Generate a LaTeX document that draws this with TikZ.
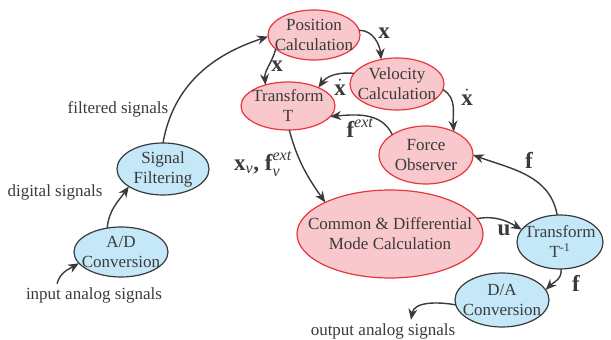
\documentclass[tikz,border=0pt]{standalone}
\usepackage{fontspec}
\setmainfont{Liberation Serif}
\usepackage{amsmath}
\usepackage{tikz}
\usetikzlibrary{
  arrows.meta,
  shapes.geometric
}

\definecolor{rosa}{HTML}{F8C8CC}
\definecolor{vermelho}{HTML}{E8363C}
\definecolor{azul}{HTML}{C5E8F8}
\definecolor{cinza}{HTML}{3A3A3A}

\begin{document}
\begin{tikzpicture}[
        x=1pt, y=1pt,
        font=\fontsize{17}{20}\selectfont,
        every node/.style={text=cinza},
        bloco/.style={ellipse, align=center, inner sep=-20pt, outer sep=0pt, line width=1.2pt},
        rosabloco/.style={bloco, draw=vermelho, fill=rosa},
        azulbloco/.style={bloco, draw=cinza, fill=azul},
        seta/.style={-{Stealth[length=11pt,width=9pt]}, line width=1.4pt, draw=cinza},
        var/.style={font=\fontsize{23}{25}\selectfont}
    ]
        \useasboundingbox (0,0) rectangle (611,340);

        % Blocos de processamento
        \node[rosabloco, minimum width=92pt, minimum height=50pt] (pos) at (314,305) {Position\\Calculation};
        \node[rosabloco, minimum width=94pt, minimum height=48pt] (trT) at (288,234) {Transform\\T};
        \node[rosabloco, minimum width=94pt, minimum height=52pt] (vel) at (397,256) {Velocity\\Calculation};
        \node[rosabloco, minimum width=94pt, minimum height=58pt] (forca) at (426,185) {Force\\Observer};
        \node[rosabloco, minimum width=186pt, minimum height=88pt] (modo) at (390,106) {Common \& Differential\\Mode Calculation};
        \node[azulbloco, minimum width=92pt, minimum height=52pt] (filtro) at (163,171) {Signal\\Filtering};
        \node[azulbloco, minimum width=94pt, minimum height=50pt] (ad) at (121,88) {A/D\\Conversion};
        \node[azulbloco, minimum width=86pt, minimum height=54pt] (trTinv) at (560,98) {Transform\\T\textsuperscript{-1}};
        \node[azulbloco, minimum width=94pt, minimum height=54pt] (da) at (502,40) {D/A\\Conversion};

        % Sinais de entrada e saida
        \node (entrada) at (94,45) {input analog signals};
        \node (saida) at (383,9) {output analog signals};
        \node (digital) at (55,148) {digital signals};
        \node (filtrado) at (118,231) {filtered signals};

        % Variaveis
        \node[var] (lx1) at (277,274) {$\textbf{x}$};
        \node[var] (lx2) at (384,307) {$\textbf{x}$};
        \node[var] (lxp1) at (340,253) {$\dot{\textbf{x}}$};
        \node[var] (lxp2) at (467,243) {$\dot{\textbf{x}}$};
        \node[var] (lfext) at (360,212) {$\textbf{f}^{\textit{ext}}$};
        \node[var] (lxv) at (263,176) {$\textbf{x}_{\textit{v}}\textbf{, }\textbf{f}_{\textit{v}}^{\textit{ext}}$};
        \node[var] (lf1) at (529,180) {$\textbf{f}$};
        \node[var] (lu) at (504,110) {$\textbf{u}$};
        \node[var] (lf2) at (576,57) {$\textbf{f}$};

        % Conexoes
        \draw[seta] ([xshift=-37pt]entrada.north) to[out=75, in=210] (ad.195);
        \draw[seta] (ad.120) to[out=85, in=235] (filtro.207);
        \draw[seta] (filtro.north) to[out=80, in=198] (pos.182);
        \draw[seta] (pos.200) to[out=255, in=95] (trT.137);
        \draw[seta] (pos.6) to[out=0, in=95] (vel.123);
        \draw[seta] (vel.166) to[out=175, in=55] (trT.31);
        \draw[seta] (vel.353) to[out=330, in=95] (forca.40);
        \draw[seta] (forca.149) to[out=115, in=5] (trT.346);
        \draw[seta] (trT.273) to[out=-75, in=125] (modo.154);
        \draw[seta] (modo.10) to[out=10, in=150] (trTinv.162);
        \draw[seta] (trTinv.96) to[out=100, in=-20] (forca.0);
        \draw[seta] (trTinv.272) to[out=-80, in=45] (da.13);
        \draw[seta] (da.186) to[out=170, in=80] ([xshift=28pt]saida.north);
    \end{tikzpicture}
\end{document}
